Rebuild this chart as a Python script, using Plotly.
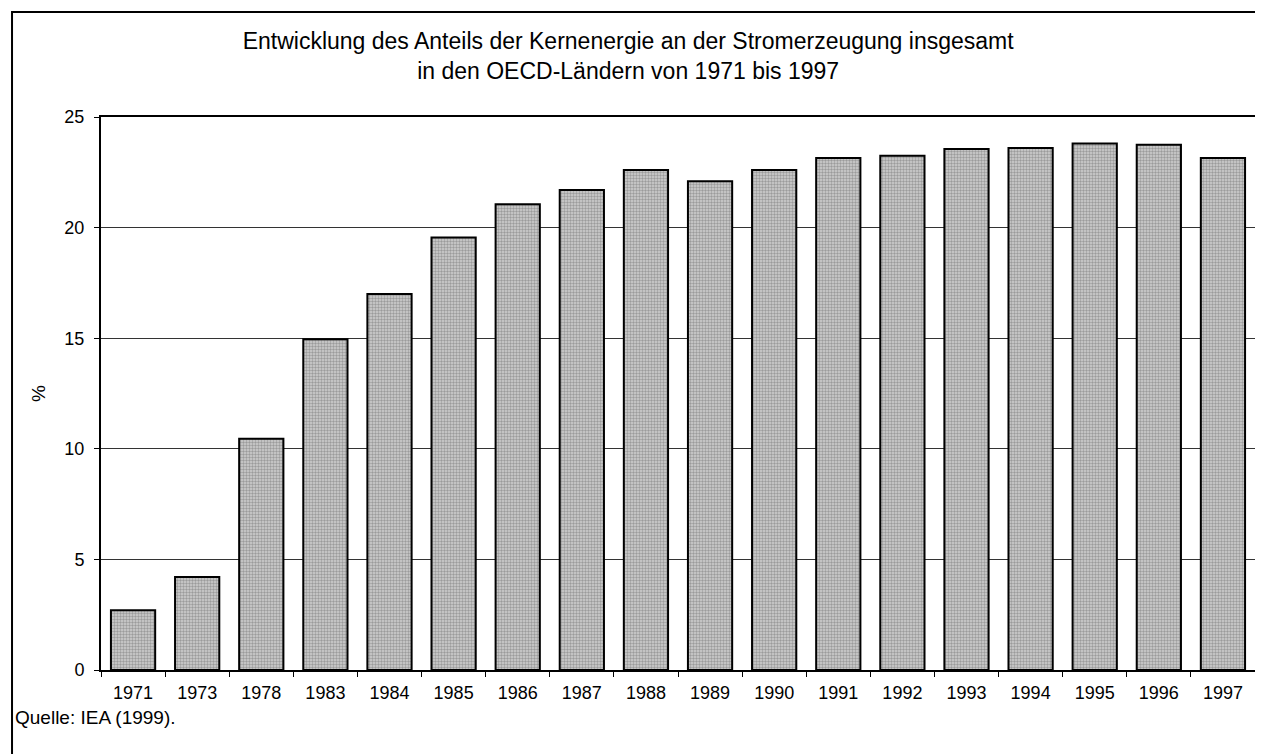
import plotly.graph_objects as go

years = ["1971", "1973", "1978", "1983", "1984", "1985", "1986", "1987", "1988",
         "1989", "1990", "1991", "1992", "1993", "1994", "1995", "1996", "1997"]
share_pct = [2.7, 4.2, 10.45, 14.95, 17.0, 19.55, 21.05, 21.7, 22.6,
             22.1, 22.6, 23.15, 23.25, 23.55, 23.6, 23.8, 23.75, 23.15]

y_ticks = [0, 5, 10, 15, 20, 25]

title_text = ("Entwicklung des Anteils der Kernenergie an der Stromerzeugung insgesamt"
              "<br>in den OECD-Ländern von 1971 bis 1997")
source_text = "Quelle: IEA (1999)."

FONT = "Liberation Sans, Arial, sans-serif"

fig = go.Figure(
    go.Bar(
        x=years,
        y=share_pct,
        marker=dict(
            color="#b8b8b8",
            line=dict(color="black", width=2),
            pattern=dict(shape=".", size=3, solidity=0.5,
                         fgcolor="#666666", bgcolor="#d0d0d0"),
        ),
        width=0.69,
    )
)

fig.update_layout(
    width=1263,
    height=754,
    paper_bgcolor="white",
    plot_bgcolor="white",
    showlegend=False,
    margin=dict(l=93, r=16, t=109, b=92),
    font=dict(family=FONT, color="black", size=17),
    title=dict(
        text=title_text,
        x=0.491,
        xanchor="center",
        y=0.946,
        yanchor="top",
        font=dict(size=23),
    ),
)

fig.update_xaxes(
    type="category",
    showline=True,
    linecolor="black",
    linewidth=2,
    mirror=True,
    ticks="outside",
    tickson="boundaries",
    ticklen=5,
    tickcolor="black",
    tickfont=dict(size=18),
    ticklabelstandoff=5,
    showgrid=False,
)

fig.update_yaxes(
    range=[0, 25],
    tickvals=y_ticks,
    showline=True,
    linecolor="black",
    linewidth=2,
    mirror=True,
    ticks="outside",
    ticklen=5,
    tickcolor="black",
    tickfont=dict(size=18),
    ticklabelstandoff=6,
    showgrid=True,
    gridcolor="#333333",
    gridwidth=1,
    zeroline=False,
    title=dict(text="%", font=dict(size=19), standoff=14),
)

# outer frame of the figure (continues beyond the right/bottom edges)
fig.add_shape(type="rect", xref="paper", yref="paper",
              x0=-0.0771, x1=1.03, y0=-0.3, y1=1.19,
              line=dict(color="black", width=2), fillcolor="rgba(0,0,0,0)",
              layer="below")

fig.add_annotation(
    text=source_text,
    xref="paper", yref="paper",
    x=-0.0765, y=-0.085,
    xanchor="left", yanchor="middle",
    showarrow=False,
    font=dict(size=19),
)

fig.write_html("out.html")
